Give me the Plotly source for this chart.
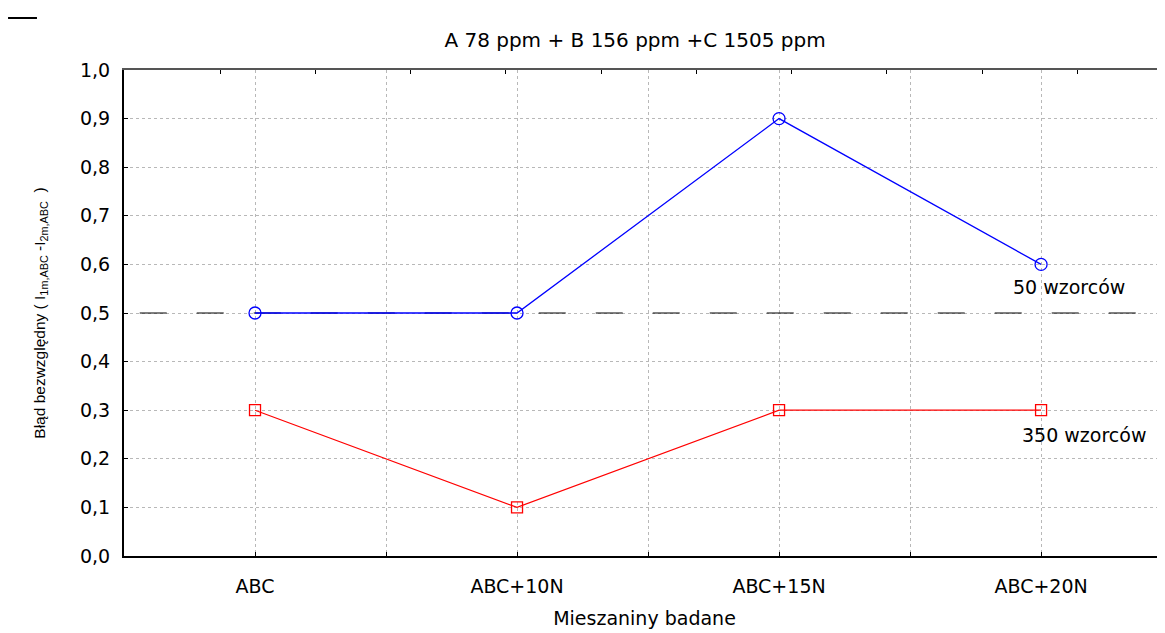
import plotly.graph_objects as go

categories = ["ABC", "ABC+10N", "ABC+15N", "ABC+20N"]
series_50 = [0.5, 0.5, 0.9, 0.6]
series_350 = [0.3, 0.1, 0.3, 0.3]
ref_x = [-0.44, 3.38]
ref_y = [0.5, 0.5]
y_ticks = [0.0, 0.1, 0.2, 0.3, 0.4, 0.5, 0.6, 0.7, 0.8, 0.9, 1.0]

xpos = list(range(len(categories)))
minor_vals = [i + 0.5 for i in range(len(categories))]

WIDE = "DejaVu Sans, Verdana, sans-serif"
ARIAL = "Liberation Sans, Arial, sans-serif"
GRID = "#b8b8b8"

fig = go.Figure()
fig.add_trace(go.Scatter(x=ref_x, y=ref_y, mode="lines",
                         line=dict(color="black", width=1, dash="27px,30px"),
                         showlegend=False, hoverinfo="skip"))
fig.add_trace(go.Scatter(x=xpos, y=series_50, mode="lines+markers",
                         line=dict(color="#0000ff", width=1.3),
                         marker=dict(symbol="circle-open", size=12, color="#0000ff",
                                     line=dict(width=1.3)),
                         showlegend=False))
fig.add_trace(go.Scatter(x=xpos, y=series_350, mode="lines+markers",
                         line=dict(color="#ff0000", width=1.2),
                         marker=dict(symbol="square-open", size=11, color="#ff0000",
                                     line=dict(width=1.3)),
                         showlegend=False))

fig.add_annotation(x=3.107, y=0.553, xref="x", yref="y", text="50 wzorców",
                   showarrow=False, font=dict(family=WIDE, size=19, color="black"))
fig.add_annotation(x=3.164, y=0.249, xref="x", yref="y", text="350 wzorców",
                   showarrow=False, font=dict(family=WIDE, size=19, color="black"))

fig.add_shape(type="line", xref="paper", yref="paper",
              x0=-0.1114, x1=-0.0836, y0=1.107, y1=1.107,
              line=dict(color="black", width=2))

fig.update_layout(
    width=1157, height=625,
    margin=dict(l=116, r=0, t=62, b=77),
    paper_bgcolor="white", plot_bgcolor="white",
    separators=", ",
    font=dict(family=WIDE, color="black"),
    title=dict(text="A 78 ppm + B 156 ppm +C 1505 ppm", x=627/1157, xanchor="center",
               y=1 - 32/625, yanchor="middle", xref="container", yref="container",
               font=dict(family=WIDE, size=20, color="black")),
    xaxis=dict(range=[-0.5, 3.473], tickmode="array", tickvals=xpos, ticktext=categories,
               showgrid=True, gridcolor=GRID, griddash="dot", gridwidth=1,
               minor=dict(tickmode="array", tickvals=minor_vals, showgrid=True,
                          gridcolor=GRID, griddash="dot", gridwidth=1,
                          ticks="inside", ticklen=4, tickcolor="black"),
               zeroline=False, showline=True, linecolor="black", linewidth=2,
               ticks="inside", ticklen=4, tickcolor="black",
               ticklabelstandoff=12,
               tickfont=dict(family=WIDE, size=19, color="black"),
               title=dict(text="Mieszaniny badane", standoff=16,
                          font=dict(family=WIDE, size=19, color="black"))),
    xaxis2=dict(overlaying="x", side="top", range=[-1.008, 9.92], tick0=0, dtick=1,
                showgrid=False, zeroline=False, showticklabels=False,
                showline=True, linecolor="#555555", linewidth=2,
                ticks="inside", ticklen=4, tickcolor="black"),
    yaxis=dict(range=[0, 1.0], tickmode="array", tickvals=y_ticks, tickformat=".1f",
               showgrid=True, gridcolor=GRID, griddash="3px,3px", gridwidth=1,
               zeroline=False, showline=True, linecolor="black", linewidth=2,
               ticks="inside", ticklen=4, tickcolor="black",
               ticklabelstandoff=8,
               tickfont=dict(family=WIDE, size=19, color="black"),
               title=dict(text="Błąd bezwzględny ( I<sub>1m,ABC</sub> -I<sub>2m,ABC</sub>  )",
                          standoff=31, font=dict(family=ARIAL, size=15.5, color="black"))),
)
fig.add_trace(go.Scatter(x=[None], y=[None], xaxis="x2", showlegend=False, hoverinfo="skip"))

fig.write_html("out.html")
